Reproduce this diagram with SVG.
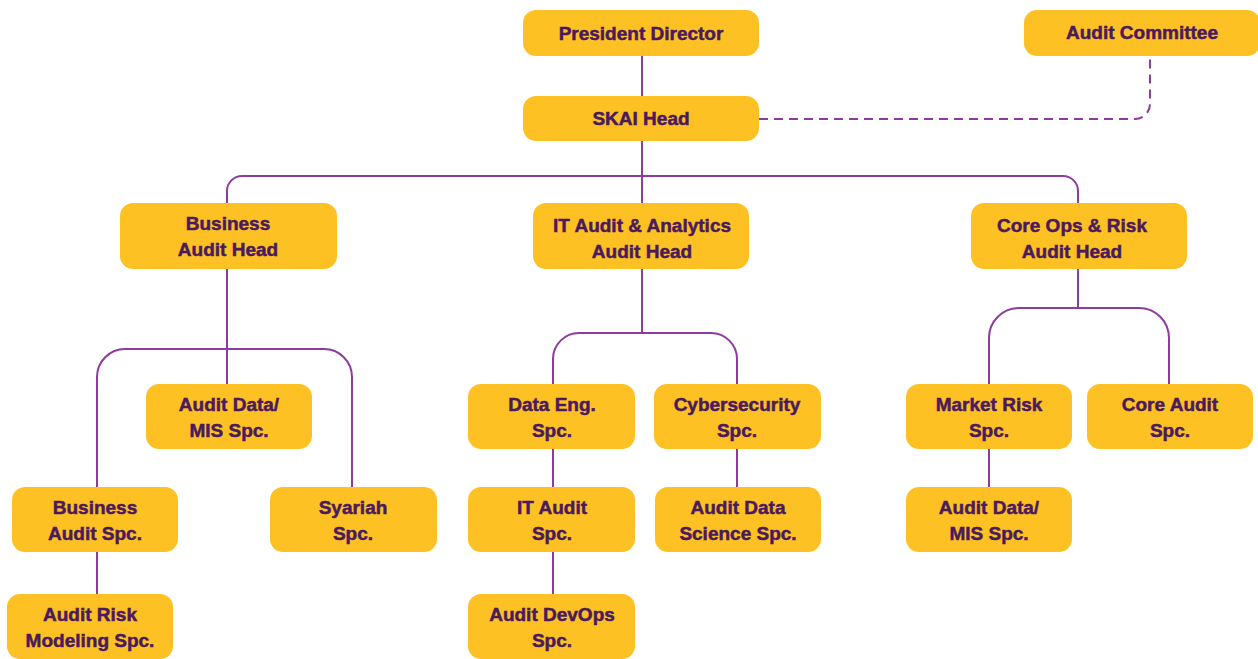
<svg xmlns="http://www.w3.org/2000/svg" width="1258" height="659" viewBox="0 0 1258 659">
<style>
.n{fill:#FDC124}
.t{font-family:"Liberation Sans",Arial,sans-serif;font-weight:bold;font-size:19px;fill:#4B1A5C;stroke:#4B1A5C;stroke-width:0.5px;text-anchor:middle}
.c{fill:none;stroke:#8E3B9E;stroke-width:2}
.d{stroke-dasharray:9 6}
</style>
<rect width="1258" height="659" fill="#FFFFFF"/>
<g id="connectors">
<path class="c" d="M642,55 V96"/>
<path class="c" d="M642,141 V203"/>
<path class="c d" d="M759,119 H1135 A15 15 0 0 0 1150,104 V55"/>
<path class="c" d="M227,203 V191 A15 15 0 0 1 242,176 H1063 A15 15 0 0 1 1078,191 V203"/>
<path class="c" d="M227,269 V384"/>
<path class="c" d="M97,487 V377 A28 28 0 0 1 125,349 H324 A28 28 0 0 1 352,377 V487"/>
<path class="c" d="M97,552 V594"/>
<path class="c" d="M642,269 V333"/>
<path class="c" d="M553,384 V359 A26 26 0 0 1 579,333 H711 A26 26 0 0 1 737,359 V384"/>
<path class="c" d="M553,449 V487"/>
<path class="c" d="M553,552 V594"/>
<path class="c" d="M737,449 V487"/>
<path class="c" d="M1078,269 V308"/>
<path class="c" d="M989,384 V338 A30 30 0 0 1 1019,308 H1139 A30 30 0 0 1 1169,338 V384"/>
<path class="c" d="M989,449 V487"/>
</g>
<g id="president-director"><rect class="n" x="523" y="10" width="236" height="46" rx="13"/><text class="t" x="641" y="40">President Director</text></g>
<g id="audit-committee"><rect class="n" x="1024" y="10" width="236" height="46" rx="13"/><text class="t" x="1142" y="39">Audit Committee</text></g>
<g id="skai-head"><rect class="n" x="523" y="96" width="236" height="45" rx="13"/><text class="t" x="641" y="125">SKAI Head</text></g>
<g id="business-audit-head"><rect class="n" x="120" y="203" width="217" height="66" rx="13"/><text class="t" x="228" y="230">Business</text><text class="t" x="228" y="256">Audit Head</text></g>
<g id="it-audit-head"><rect class="n" x="533" y="203" width="216" height="66" rx="13"/><text class="t" x="642" y="232">IT Audit &amp; Analytics</text><text class="t" x="642" y="258">Audit Head</text></g>
<g id="core-ops-head"><rect class="n" x="971" y="203" width="216" height="66" rx="13"/><text class="t" x="1072" y="232">Core Ops &amp; Risk</text><text class="t" x="1072" y="258">Audit Head</text></g>
<g id="audit-data-mis-1"><rect class="n" x="146" y="384" width="166" height="65" rx="13"/><text class="t" x="229" y="411">Audit Data/</text><text class="t" x="229" y="437">MIS Spc.</text></g>
<g id="business-audit-spc"><rect class="n" x="12" y="487" width="166" height="65" rx="13"/><text class="t" x="95" y="514">Business</text><text class="t" x="95" y="540">Audit Spc.</text></g>
<g id="syariah-spc"><rect class="n" x="270" y="487" width="167" height="65" rx="13"/><text class="t" x="353" y="514">Syariah</text><text class="t" x="353" y="540">Spc.</text></g>
<g id="audit-risk-modeling"><rect class="n" x="7" y="594" width="166" height="65" rx="13"/><text class="t" x="90" y="621">Audit Risk</text><text class="t" x="90" y="647">Modeling Spc.</text></g>
<g id="data-eng-spc"><rect class="n" x="468" y="384" width="167" height="65" rx="13"/><text class="t" x="552" y="411">Data Eng.</text><text class="t" x="552" y="437">Spc.</text></g>
<g id="cybersecurity-spc"><rect class="n" x="654" y="384" width="167" height="65" rx="13"/><text class="t" x="737" y="411">Cybersecurity</text><text class="t" x="737" y="437">Spc.</text></g>
<g id="it-audit-spc"><rect class="n" x="468" y="487" width="167" height="65" rx="13"/><text class="t" x="552" y="514">IT Audit</text><text class="t" x="552" y="540">Spc.</text></g>
<g id="audit-data-science-spc"><rect class="n" x="655" y="487" width="166" height="65" rx="13"/><text class="t" x="738" y="514">Audit Data</text><text class="t" x="738" y="540">Science Spc.</text></g>
<g id="audit-devops-spc"><rect class="n" x="468" y="594" width="167" height="65" rx="13"/><text class="t" x="552" y="621">Audit DevOps</text><text class="t" x="552" y="647">Spc.</text></g>
<g id="market-risk-spc"><rect class="n" x="906" y="384" width="166" height="65" rx="13"/><text class="t" x="989" y="411">Market Risk</text><text class="t" x="989" y="437">Spc.</text></g>
<g id="core-audit-spc"><rect class="n" x="1087" y="384" width="166" height="65" rx="13"/><text class="t" x="1170" y="411">Core Audit</text><text class="t" x="1170" y="437">Spc.</text></g>
<g id="audit-data-mis-2"><rect class="n" x="906" y="487" width="166" height="65" rx="13"/><text class="t" x="989" y="514">Audit Data/</text><text class="t" x="989" y="540">MIS Spc.</text></g>
</svg>
